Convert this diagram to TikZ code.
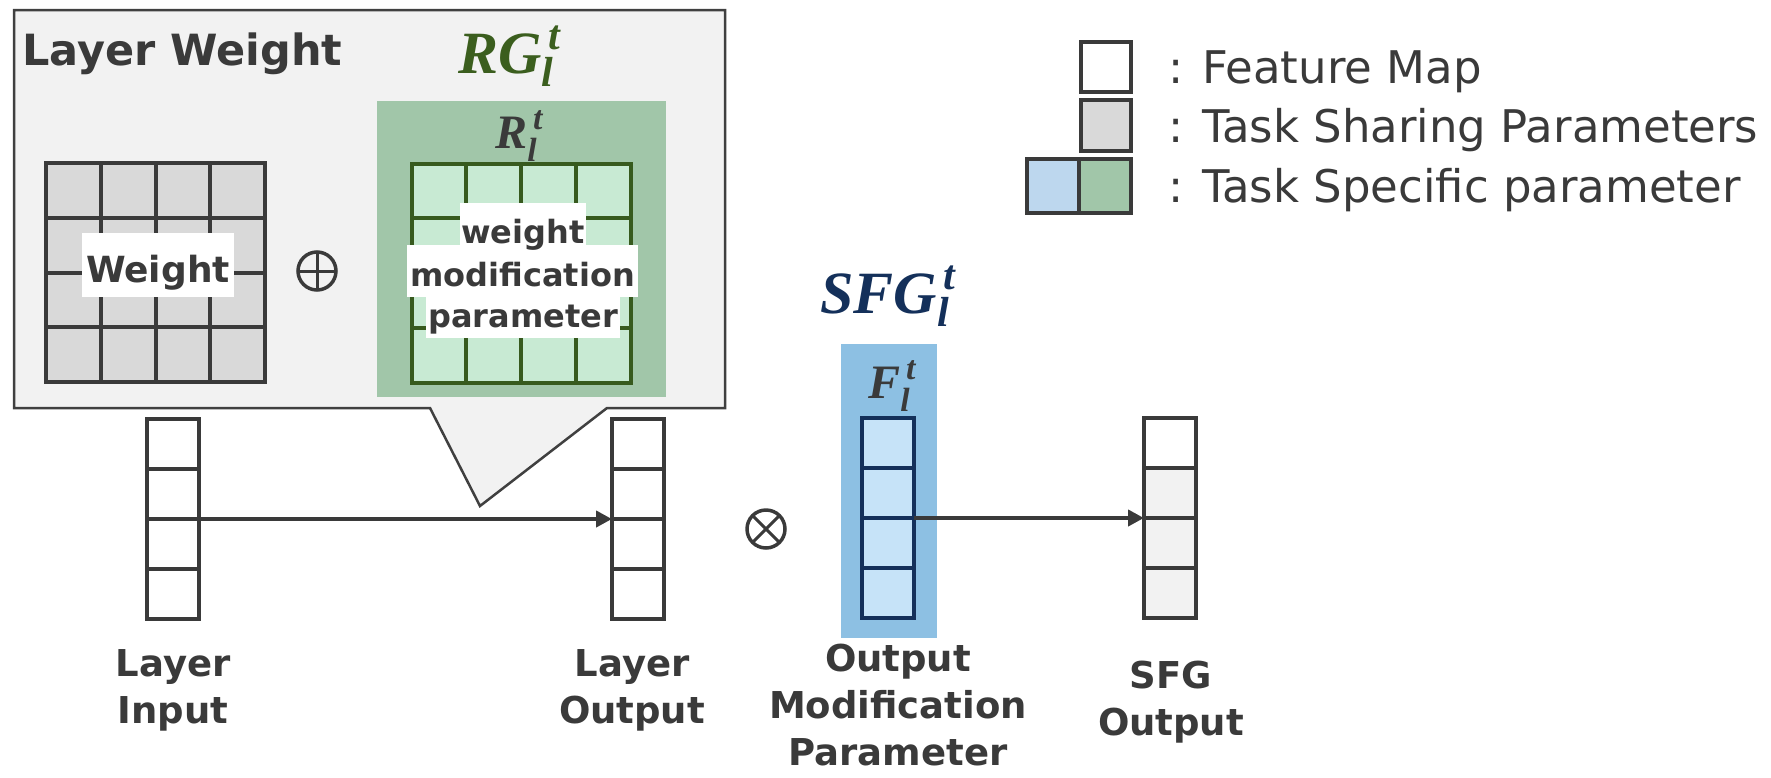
\documentclass[tikz,border=0pt]{standalone}
\usepackage{fontspec}
\usepackage{amsmath}
\setmainfont{DejaVu Sans}
\newfontfamily\serifbi{Liberation Serif}
\usetikzlibrary{arrows.meta,calc}

\definecolor{ink}{HTML}{3A3A3A}
\definecolor{calloutfill}{HTML}{F2F2F2}
\definecolor{calloutline}{HTML}{404040}
\definecolor{shared}{HTML}{D9D9D9}
\definecolor{greenbg}{HTML}{A1C6A9}
\definecolor{greencell}{HTML}{C8EAD3}
\definecolor{greenline}{HTML}{375A1E}
\definecolor{rgtext}{HTML}{3B5E1E}
\definecolor{bluebg}{HTML}{8DC0E3}
\definecolor{bluecell}{HTML}{C6E3F8}
\definecolor{navy}{HTML}{14305A}
\definecolor{legblue}{HTML}{BDD7EE}
\definecolor{outcell}{HTML}{F2F2F2}

% bold italic serif letters for the symbols
\newcommand\bmi[1]{\text{\serifbi\bfseries\itshape #1}}
% symbol with layer index l and task index t
\newcommand\lsym[1]{\bmi{#1}^{\mkern3mu\bmi{t}}_{\bmi{l}}}

\begin{document}
\begin{tikzpicture}[x=0.5pt,y=-0.5pt,
  every node/.style={inner sep=0pt, outer sep=0pt, text=ink},
  callout/.style={fill=calloutfill, draw=calloutline, line width=1.25pt, line join=miter},
  grid4/.style={rectangle, line width=2pt, minimum width=109.5pt, minimum height=109.5pt},
  fcol/.style={rectangle, draw=ink, fill=white, line width=2pt, minimum width=26pt, minimum height=100pt},
  gline/.style={line width=2pt},
  wlabel/.style={fill=white, font=\fontsize{16}{19}\selectfont\bfseries, anchor=base},
  bottomlbl/.style={anchor=base, font=\fontsize{18.5}{23.5}\selectfont\bfseries},
  smallsym/.style={anchor=base, font=\fontsize{24}{28}\selectfont},
  bigsym/.style={anchor=base, font=\fontsize{30}{36}\selectfont},
  op/.style={circle, draw=ink, line width=1.75pt, minimum size=19pt},
  conn/.style={draw=ink, line width=2pt, -{Triangle[length=8pt,width=8pt]}},
  legbox/.style={rectangle, draw=ink, line width=2.2pt},
  legtext/.style={anchor=base west, font=\fontsize{22.5}{27}\selectfont}
]
\useasboundingbox (0,0) rectangle (1771,777);

% ---------- layer weight callout ----------
\draw[callout] (14,10) -- (725,10) -- (725,408) -- (607,408) -- (480,506) -- (430,408) -- (14,408) -- cycle;
\node[anchor=base west, font=\fontsize{21.5}{26}\selectfont\bfseries] (lwtitle) at (22,65) {Layer Weight};

% shared weight grid
\node[grid4, fill=shared, draw=ink] (wg) at (155.5,272.5) {};
\foreach \f in {0.25,0.5,0.75}{
  \draw[gline, ink] ($(wg.north west)!\f!(wg.north east)$) -- ($(wg.south west)!\f!(wg.south east)$);
  \draw[gline, ink] ($(wg.north west)!\f!(wg.south west)$) -- ($(wg.north east)!\f!(wg.south east)$);
}
\node[fill=white, anchor=base, font=\fontsize{18}{21}\selectfont\bfseries,
      minimum width=76pt, text height=24.5pt, text depth=7.5pt] (wlab) at (158,282) {Weight};

% addition
\node[op, path picture={\draw[ink, line width=1.5pt]
   (path picture bounding box.north) -- (path picture bounding box.south)
   (path picture bounding box.west) -- (path picture bounding box.east);}] (oplus) at (317,271) {};

% task specific weight modification
\node[fill=greenbg, minimum width=144.5pt, minimum height=148pt] (rbg) at (521.5,249) {};
\node[bigsym, text=rgtext] (rgtitle) at (509.5,73) {$\lsym{RG}$};
\node[smallsym] (rlab) at (519.5,148) {$\lsym{R}$};
\node[grid4, fill=greencell, draw=greenline] (rgrid) at (521,273) {};
\foreach \f in {0.25,0.5,0.75}{
  \draw[gline, greenline] ($(rgrid.north west)!\f!(rgrid.north east)$) -- ($(rgrid.south west)!\f!(rgrid.south east)$);
  \draw[gline, greenline] ($(rgrid.north west)!\f!(rgrid.south west)$) -- ($(rgrid.north east)!\f!(rgrid.south east)$);
}
\node[wlabel, minimum width=97pt, text height=15pt, text depth=5.5pt] (wl3) at (523,327) {parameter};
\node[wlabel, minimum width=115.5pt, text height=20.5pt, text depth=5.5pt] (wl2) at (522.5,286) {modification};
\node[wlabel, minimum width=63pt, text height=20pt, text depth=1pt] (wl1) at (523,243) {weight};

% ---------- feature columns ----------
\node[fcol] (lin) at (173,519) {};
\node[fcol] (lout) at (638,519) {};
\node[fill=bluebg, minimum width=48pt, minimum height=147pt] (fbg) at (889,491) {};
\node[fcol, draw=navy, fill=bluecell] (fmod) at (888,518) {};
\node[fcol, path picture={\fill[outcell]
   ($(path picture bounding box.north west)!0.25!(path picture bounding box.south west)$)
   rectangle (path picture bounding box.south east);}] (sfg) at (1170,518) {};
\foreach \c in {lin,lout,sfg}{
  \foreach \f in {0.25,0.5,0.75}
    \draw[gline, ink] ($(\c.north west)!\f!(\c.south west)$) -- ($(\c.north east)!\f!(\c.south east)$);
}
\foreach \f in {0.25,0.5,0.75}
  \draw[gline, navy] ($(fmod.north west)!\f!(fmod.south west)$) -- ($(fmod.north east)!\f!(fmod.south east)$);

\node[smallsym] (flab) at (892.5,398) {$\lsym{F}$};
\node[bigsym, text=navy] (sfgtitle) at (888.5,313) {$\lsym{SFG}$};

% multiplication
\node[op, path picture={\draw[ink, line width=1.5pt]
   (path picture bounding box.north west) -- (path picture bounding box.south east)
   (path picture bounding box.north east) -- (path picture bounding box.south west);}] (otimes) at (766,529) {};

% connectors
\draw[conn] (lin.east) -- (lout.west);
\draw[conn] (fmod.east) -- (sfg.west);

% column captions
\node[bottomlbl] (linlbl) at (173,676) {\begin{tabular}[t]{@{}c@{}}Layer\\Input\end{tabular}};
\node[bottomlbl] (loutlbl) at (632,676) {\begin{tabular}[t]{@{}c@{}}Layer\\Output\end{tabular}};
\node[bottomlbl] (fmodlbl) at (898,671) {\begin{tabular}[t]{@{}c@{}}Output\\Modification\\Parameter\end{tabular}};
\node[bottomlbl] (sfglbl) at (1171,688) {\begin{tabular}[t]{@{}c@{}}SFG\\Output\end{tabular}};

% ---------- legend ----------
\node[legbox, fill=white, minimum width=25pt, minimum height=25pt] (lgfm) at (1106,67) {};
\node[legbox, fill=shared, minimum width=25pt, minimum height=25.5pt] (lgts) at (1106,125.5) {};
\node[legbox, fill=legblue, minimum width=26pt, minimum height=27pt] (lgblue) at (1053,186) {};
\node[legbox, fill=greenbg, minimum width=26pt, minimum height=27pt] (lggreen) at (1105,186) {};
\node[legtext] (lgt1) at (1168,83.5) {: Feature Map};
\node[legtext] (lgt2) at (1168,142) {: Task Sharing Parameters};
\node[legtext] (lgt3) at (1168,202.5) {: Task Specific parameter};
\end{tikzpicture}
\end{document}
